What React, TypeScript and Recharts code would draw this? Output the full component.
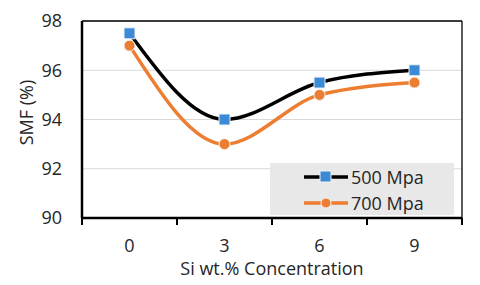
import { CartesianGrid, Legend, Line, LineChart, ReferenceLine, XAxis, YAxis } from "recharts";

const si = [0, 3, 6, 9];
const mpa500 = [97.5, 94, 95.5, 96];
const mpa700 = [97, 93, 95, 95.5];
const yTicks = [90, 92, 94, 96, 98];
const xEdges = [-1.5, 1.5, 4.5, 7.5, 10.5];

const data = si.map((s, i) => ({ si: s, a: mpa500[i], b: mpa700[i] }));

const FONT = "'Open Sans', sans-serif";
const FS = 18;
const TXT = "#262626";
const BLUE = "#3a8ad8";
const ORANGE = "#ED7D31";

function XTick({ x, y, payload }: any) {
  const v = payload.value;
  if (si.includes(v)) {
    return (
      <text x={x} y={y + 34} textAnchor="middle" fill={TXT} fontSize={FS} fontFamily={FONT}>
        {v}
      </text>
    );
  }
  return <line x1={x} x2={x} y1={y} y2={y + 7} stroke="#000" strokeWidth={2} />;
}

function Square({ cx, cy, index }: any) {
  return <rect key={"s" + index} x={cx - 5.5} y={cy - 5.5} width={11} height={11} fill={BLUE} stroke="#f2f2f2" strokeWidth={1} />;
}

function Circle({ cx, cy, index }: any) {
  return <circle key={"c" + index} cx={cx} cy={cy} r={5.5} fill={ORANGE} stroke="#f2f2f2" strokeWidth={1} />;
}

function LegendBox() {
  const rows = [
    { name: "500 Mpa", line: "#000", marker: "sq" },
    { name: "700 Mpa", line: ORANGE, marker: "ci" },
  ];
  return (
    <div style={{ background: "#e8e8e8", width: 184, height: 52, paddingTop: 1, boxSizing: "border-box" }}>
      {rows.map((r) => (
        <div key={r.name} style={{ display: "flex", alignItems: "center", height: 26, paddingLeft: 34 }}>
          <svg width={44} height={14}>
            <line x1={0} x2={44} y1={7} y2={7} stroke={r.line} strokeWidth={3.5} />
            {r.marker === "sq" ? (
              <rect x={16} y={1} width={11} height={11} fill={BLUE} stroke="#f2f2f2" />
            ) : (
              <circle cx={22} cy={7} r={5} fill={ORANGE} stroke="#f2f2f2" />
            )}
          </svg>
          <span style={{ fontFamily: FONT, fontSize: FS, color: TXT, marginLeft: 3 }}>{r.name}</span>
        </div>
      ))}
    </div>
  );
}

export default function App() {
  return (
    <div style={{ position: "absolute", left: 0, top: 0, background: "#fff" }}>
      <LineChart width={480} height={285} data={data} margin={{ top: 21, right: 18, bottom: 0, left: 0 }}>
        <CartesianGrid vertical={false} stroke="#d9d9d9" strokeWidth={1.2} />
        <XAxis
          dataKey="si"
          type="number"
          domain={[-1.5, 10.5]}
          ticks={[...xEdges, ...si].sort((p, q) => p - q)}
          interval={0}
          height={67}
          tickSize={0}
          tickMargin={0}
          tick={<XTick />}
          axisLine={{ stroke: "#000", strokeWidth: 2.5 }}
          label={{ value: "Si wt.% Concentration", position: "insideBottom", offset: 10, fill: TXT, fontSize: FS, fontFamily: FONT }}
        />
        <YAxis
          domain={[90, 98]}
          ticks={yTicks}
          width={82}
          tickSize={0}
          tickMargin={20}
          tick={{ fill: TXT, fontSize: FS, fontFamily: FONT }}
          axisLine={{ stroke: "#000", strokeWidth: 2.5 }}
          label={{ value: "SMF (%)", angle: -90, position: "insideLeft", offset: 27, dy: -7, fill: TXT, fontSize: FS, fontFamily: FONT, style: { textAnchor: "middle" } }}
        />
        <ReferenceLine y={98} stroke="#000" strokeWidth={1.3} />
        <ReferenceLine x={10.5} stroke="#000" strokeWidth={1.3} />
        <Legend
          layout="horizontal"
          verticalAlign="middle"
          align="center"
          content={<LegendBox />}
          wrapperStyle={{ left: 270, top: 163, width: 184, height: 52 }}
        />
        <Line name="500 Mpa" dataKey="a" type="monotone" stroke="#000" strokeWidth={3.5} dot={<Square />} isAnimationActive={false} />
        <Line name="700 Mpa" dataKey="b" type="monotone" stroke={ORANGE} strokeWidth={3.5} dot={<Circle />} isAnimationActive={false} />
      </LineChart>
    </div>
  );
}
